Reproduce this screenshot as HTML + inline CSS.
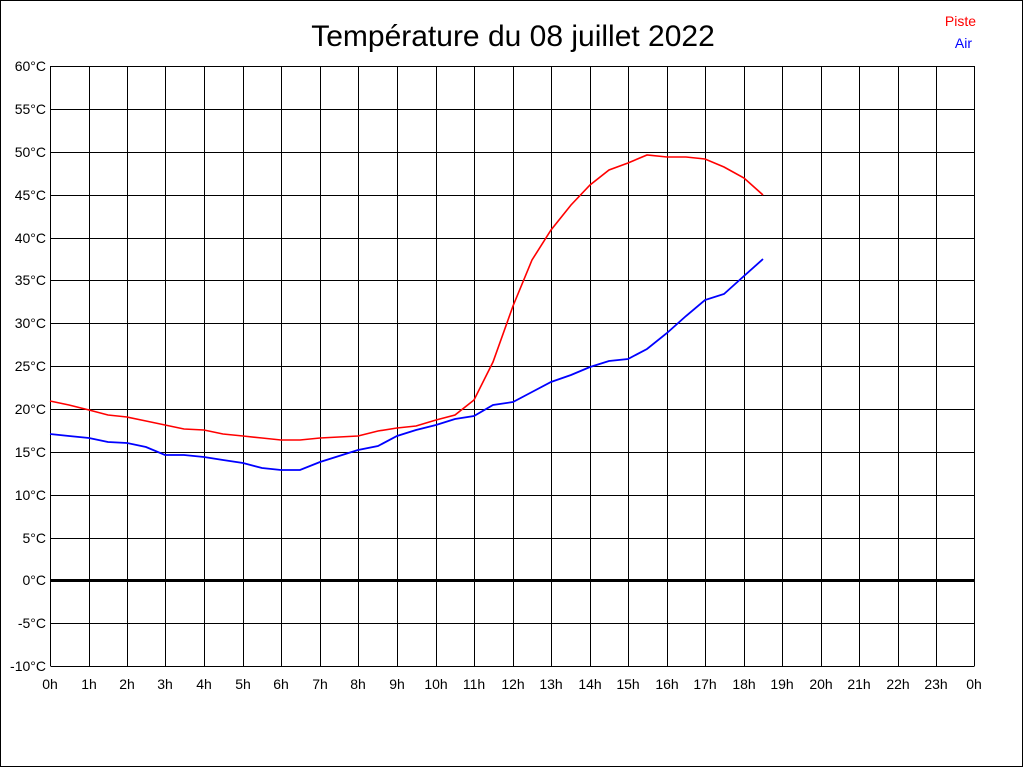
<!DOCTYPE html>
<html><head><meta charset="utf-8"><style>body{margin:0;background:#fff}svg{display:block}</style></head>
<body>
<svg width="1024" height="768" xmlns="http://www.w3.org/2000/svg" font-family="Liberation Sans, sans-serif">
<rect x="0.5" y="0.5" width="1022" height="766" fill="#fff" stroke="#000"/>
<text x="513" y="46" font-size="30" text-anchor="middle">Température du 08 juillet 2022</text>
<text x="976" y="26" font-size="14" fill="#f00" text-anchor="end">Piste</text>
<text x="972" y="48" font-size="14" fill="#00f" text-anchor="end">Air</text>
<g stroke="#000" stroke-width="1">
<path d="M50.5 66.5H974.5M50.5 109.5H974.5M50.5 152.5H974.5M50.5 195.5H974.5M50.5 238.5H974.5M50.5 280.5H974.5M50.5 323.5H974.5M50.5 366.5H974.5M50.5 409.5H974.5M50.5 452.5H974.5M50.5 495.5H974.5M50.5 538.5H974.5M50.5 623.5H974.5M50.5 666.5H974.5"/>
<path d="M50.5 66V666M89.5 66V666M127.5 66V666M165.5 66V666M204.5 66V666M243.5 66V666M281.5 66V666M320.5 66V666M358.5 66V666M397.5 66V666M436.5 66V666M474.5 66V666M513.5 66V666M551.5 66V666M590.5 66V666M628.5 66V666M667.5 66V666M705.5 66V666M744.5 66V666M782.5 66V666M821.5 66V666M859.5 66V666M898.5 66V666M936.5 66V666M974.5 66V666"/>
</g>
<path d="M50 580.5H974" stroke="#000" stroke-width="3"/>
<g font-size="14" text-anchor="end">
<text x="46" y="71">60°C</text><text x="46" y="114">55°C</text><text x="46" y="157">50°C</text><text x="46" y="200">45°C</text><text x="46" y="243">40°C</text><text x="46" y="285">35°C</text><text x="46" y="328">30°C</text><text x="46" y="371">25°C</text><text x="46" y="414">20°C</text><text x="46" y="457">15°C</text><text x="46" y="500">10°C</text><text x="46" y="543">5°C</text><text x="46" y="585">0°C</text><text x="46" y="628">-5°C</text><text x="46" y="671">-10°C</text>
</g>
<g font-size="14" text-anchor="middle">
<text x="50" y="689">0h</text><text x="89" y="689">1h</text><text x="127" y="689">2h</text><text x="165" y="689">3h</text><text x="204" y="689">4h</text><text x="243" y="689">5h</text><text x="281" y="689">6h</text><text x="320" y="689">7h</text><text x="358" y="689">8h</text><text x="397" y="689">9h</text><text x="436" y="689">10h</text><text x="474" y="689">11h</text><text x="513" y="689">12h</text><text x="551" y="689">13h</text><text x="590" y="689">14h</text><text x="628" y="689">15h</text><text x="667" y="689">16h</text><text x="705" y="689">17h</text><text x="744" y="689">18h</text><text x="782" y="689">19h</text><text x="821" y="689">20h</text><text x="859" y="689">21h</text><text x="898" y="689">22h</text><text x="936" y="689">23h</text><text x="974" y="689">0h</text>
</g>
<polyline fill="none" stroke="#f00" stroke-width="1.6" points="50,401 69,405 89,410 108,415 127,417 146,421 165,425 184,429 204,430 223,434 243,436 262,438 281,440 300,440 320,438 339,437 358,436 378,431 397,428 416,426 436,420 455,415 474,400 493,362 513,306 532,260 551,230 571,205 590,185 609,170 628,163 647,155 667,157 686,157 705,159 724,167 744,178 763,195"/>
<polyline fill="none" stroke="#00f" stroke-width="1.8" points="50,434 69,436 89,438 108,442 127,443 146,447 165,455 184,455 204,457 223,460 243,463 262,468 281,470 300,470 320,462 339,456 358,450 378,446 397,436 416,430 436,425 455,419 474,416 493,405 513,402 532,392 551,382 571,375 590,367 609,361 628,359 647,349 667,333 686,316 705,300 724,294 744,276 763,259"/>
</svg>
</body></html>
